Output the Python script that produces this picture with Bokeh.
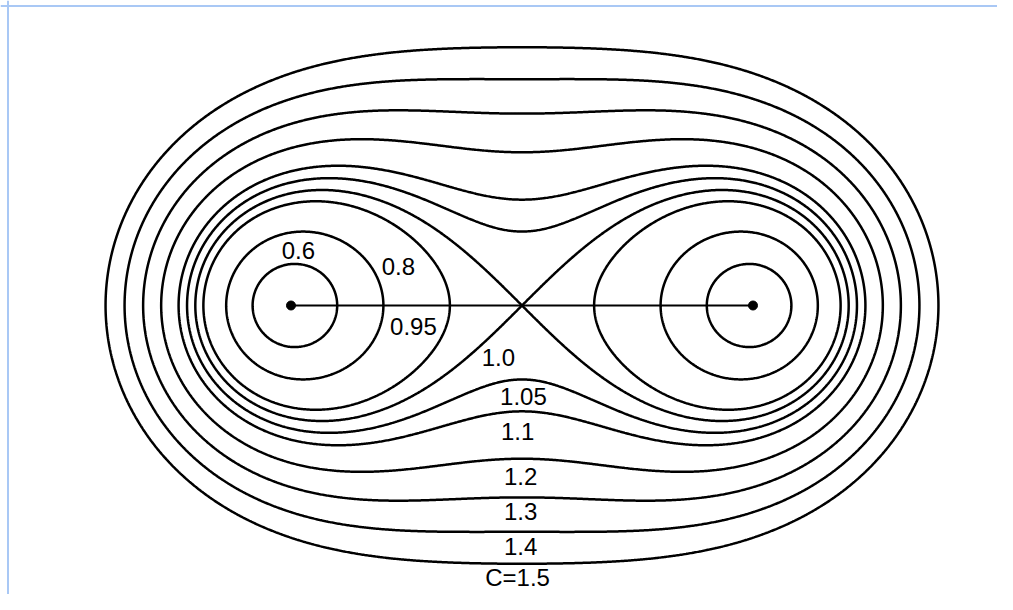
import numpy as np
from bokeh.plotting import figure
from bokeh.models import Range1d, Span
from bokeh.core.properties import value
from bokeh.embed import file_html
from bokeh.resources import INLINE

# two centres (foci) of the curves
foci_x = [-1.0, 1.0]
foci_y = [0.0, 0.0]

# contour levels C (C = sqrt(r1*r2))
levels = [0.6, 0.8, 0.95, 1.0, 1.05, 1.1, 1.2, 1.3, 1.4, 1.5]

# curve labels and their anchor points (data units)
label_text = ["0.6", "0.8", "0.95", "1.0", "1.05", "1.1", "1.2", "1.3", "1.4", "C=1.5"]
label_x = [-0.968, -0.535, -0.470, -0.102, 0.006, -0.019, -0.006, -0.006, -0.006, -0.019]
label_y = [0.240, 0.170, -0.090, -0.225, -0.393, -0.545, -0.740, -0.892, -1.042, -1.176]

# field on a grid
xs = np.linspace(-2.3, 2.3, 921)
ys = np.linspace(-1.4, 1.4, 561)
X, Y = np.meshgrid(xs, ys)
r1 = np.hypot(X - foci_x[0], Y - foci_y[0])
r2 = np.hypot(X - foci_x[1], Y - foci_y[1])
Z = np.sqrt(r1 * r2)

W, H = 997, 594
scale = 231.0
cx, cy = 521.5, 305.0
x0 = (0 - cx) / scale
x1 = (W - cx) / scale
y1 = (cy - 0) / scale
y0 = (cy - H) / scale

p = figure(width=W, height=H, x_range=Range1d(x0, x1), y_range=Range1d(y0, y1),
           output_backend="svg", toolbar_location=None, min_border=0,
           x_axis_location=None, y_axis_location=None)
p.grid.visible = False
p.outline_line_color = None
p.background_fill_color = "white"
p.border_fill_color = "white"

p.contour(xs, ys, Z, levels=levels, line_color="black", line_width=2.5)

# line joining the two centres and the centre dots
p.line(foci_x, foci_y, line_color="black", line_width=1.8)
p.scatter(foci_x, foci_y, size=9, color="black")

p.text(label_x, label_y, text=label_text, text_font=value("Liberation Sans"),
       text_font_size="24px", text_align="center", text_baseline="middle",
       text_color="black")

# light-blue frame (top and left edges visible)
p.add_layout(Span(location=(cy - 5.5) / scale, dimension="width",
                  line_color="#a9c8f5", line_width=2))
p.add_layout(Span(location=(7.5 - cx) / scale, dimension="height",
                  line_color="#a9c8f5", line_width=2))

open("out.html", "w").write(file_html(p, INLINE))
